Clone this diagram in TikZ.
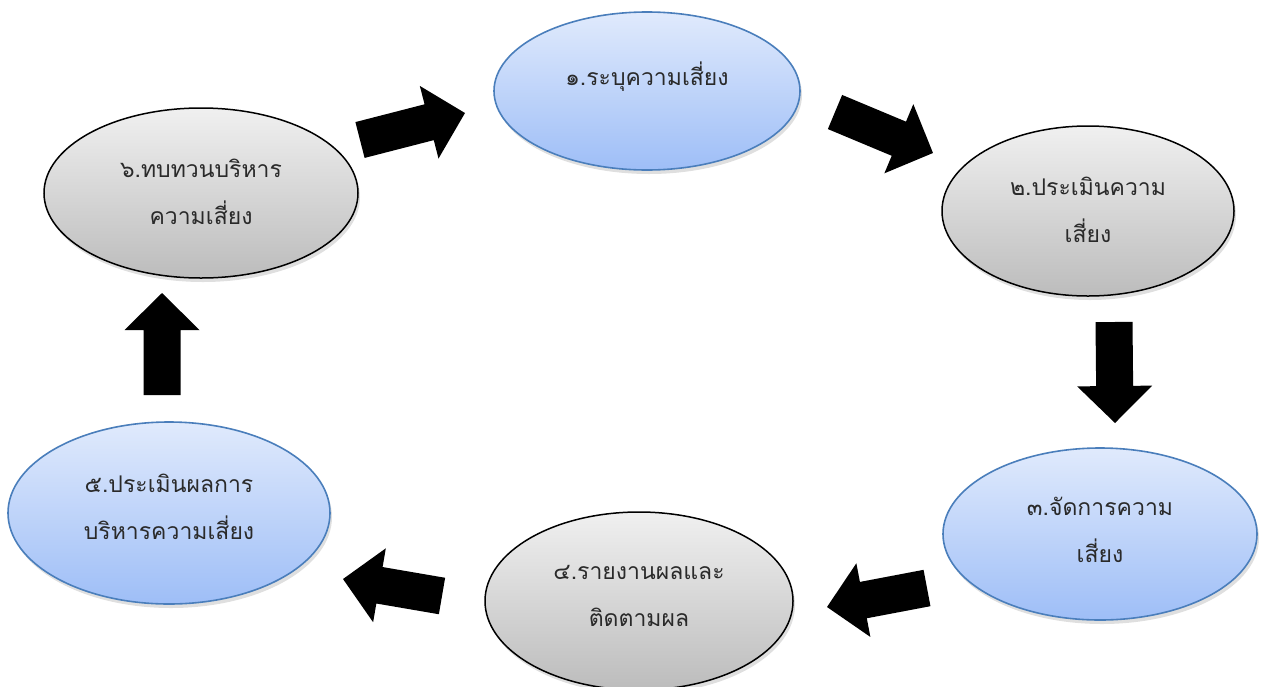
\documentclass[tikz,border=0pt]{standalone}
\usepackage{fontspec}
\newfontfamily\thaifont[Script=Thai]{Loma}
\usetikzlibrary{shapes.geometric,shadows,calc}
\definecolor{bluetop}{HTML}{E0EAFC}
\definecolor{bluebot}{HTML}{9EBEF7}
\definecolor{blueedge}{HTML}{4A7EBB}
\definecolor{graytop}{HTML}{F0F0F0}
\definecolor{graybot}{HTML}{BCBCBC}
\definecolor{txt}{HTML}{2A2A2A}
\tikzset{
  stageblue/.style={ellipse, draw=blueedge, line width=1.6pt, top color=bluetop, bottom color=bluebot,
    drop shadow={shadow xshift=2pt, shadow yshift=-4pt, opacity=0.25}, inner sep=0pt},
  stagegray/.style={ellipse, draw=black, line width=1.5pt, top color=graytop, bottom color=graybot,
    drop shadow={shadow xshift=2pt, shadow yshift=-4pt, opacity=0.25}, inner sep=0pt},
  stagetext/.style={align=center, text=txt, inner sep=0pt, font=\thaifont\fontsize{23}{47}\selectfont},
}
\newcommand\blockarr[2]{%
  \fill[black] let \p1=(#1), \p2=(#2), \n1={atan2(\y2-\y1,\x2-\x1)}, \n2={veclen(\x2-\x1,\y2-\y1)} in
    [shift={(\p1)}, rotate=\n1]
    (0pt,-18.5pt) -- (\n2-37pt,-18.5pt) -- (\n2-37pt,-37.5pt) -- (\n2,0pt)
    -- (\n2-37pt,37.5pt) -- (\n2-37pt,18.5pt) -- (0pt,18.5pt) -- cycle;}
\begin{document}
\begin{tikzpicture}[x=1pt,y=-1pt]
\useasboundingbox (0,0) rectangle (1265,686);
% stages
\node[stageblue, minimum width=306pt, minimum height=158pt] (s1) at (647,91) {};
\node[stagegray, minimum width=292pt, minimum height=170pt] (s2) at (1088,211) {};
\node[stageblue, minimum width=314pt, minimum height=172pt] (s3) at (1100,534) {};
\node[stagegray, minimum width=308pt, minimum height=178pt] (s4) at (639,601) {};
\node[stageblue, minimum width=322pt, minimum height=182pt] (s5) at (169,513) {};
\node[stagegray, minimum width=314pt, minimum height=170pt] (s6) at (201,193) {};
% texts
\node[stagetext] (t1) at (647,77) {๑.ระบุความเสี่ยง};
\node[stagetext] (t2) at (1088,210) {๒.ประเมินความ\\เสี่ยง};
\node[stagetext] (t3) at (1100,530) {๓.จัดการความ\\เสี่ยง};
\node[stagetext] (t4) at (639,596) {๔.รายงานผลและ\\ติดตามผล};
\node[stagetext] (t5) at (169,507) {๕.ประเมินผลการ\\บริหารความเสี่ยง};
\node[stagetext] (t6) at (201,192) {๖.ทบทวนบริหาร\\ความเสี่ยง};
% block arrows
\coordinate (a1s) at (360,140); \coordinate (a1e) at (465,113);
\coordinate (a2s) at (835,112); \coordinate (a2e) at (933,153);
\coordinate (a3s) at (1114,322); \coordinate (a3e) at (1115,423);
\coordinate (a4s) at (927,588); \coordinate (a4e) at (827,607);
\coordinate (a5s) at (442,596); \coordinate (a5e) at (343,579);
\coordinate (a6s) at (162,395); \coordinate (a6e) at (162,293);
\blockarr{a1s}{a1e}
\blockarr{a2s}{a2e}
\blockarr{a3s}{a3e}
\blockarr{a4s}{a4e}
\blockarr{a5s}{a5e}
\blockarr{a6s}{a6e}
\end{tikzpicture}
\end{document}
